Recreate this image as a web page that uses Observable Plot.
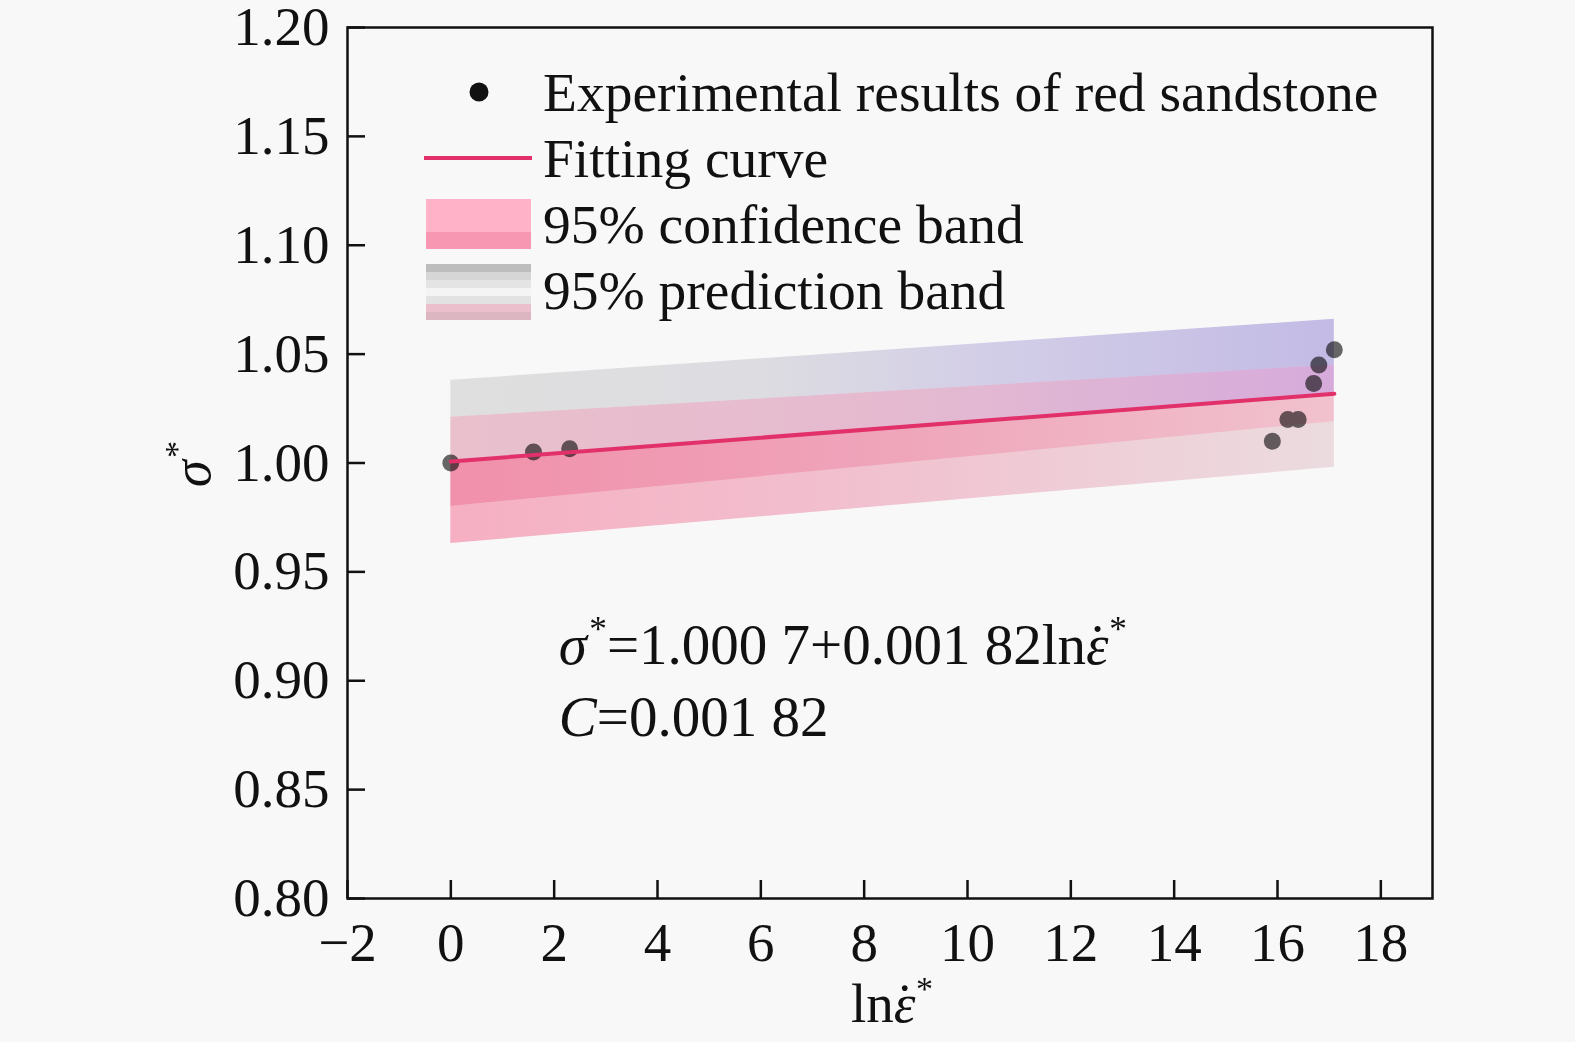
<!DOCTYPE html>
<html><head><meta charset="utf-8">
<script src="https://cdn.jsdelivr.net/npm/d3@7"></script>
<script src="https://cdn.jsdelivr.net/npm/@observablehq/plot@0.6"></script>
<style>
html,body{margin:0;padding:0;background:#f8f8f8;}
svg{display:block;background:#f8f8f8;}
</style></head><body><div id="chart"></div>
<script>
// ---- data ----
const xPoints = [0, 1.6, 2.3, 15.9, 16.2, 16.4, 16.7, 16.8, 17.1];
const yPoints = [1.000, 1.005, 1.0065, 1.010, 1.020, 1.020, 1.0365, 1.045, 1.052];
const bandX     = [0, 17.1];
const fitY      = [1.0007, 1.0318];
const predUpper = [1.038, 1.066];
const confUpper = [1.021, 1.045];
const confLower = [0.980, 1.019];
const predLower = [0.963, 0.998];
const xTicks = [-2, 0, 2, 4, 6, 8, 10, 12, 14, 16, 18];
const yTicks = [0.80, 0.85, 0.90, 0.95, 1.00, 1.05, 1.10, 1.15, 1.20];
const legendLabels = ["Experimental results of red sandstone", "Fitting curve", "95% confidence band", "95% prediction band"];
const equationLine1 = [["σ", "i"], ["*", "s"], ["=1.000 7+0.001 82ln", ""], ["ε", "i"], ["\u02D9", "d"], ["*", "s"]];
const equationLine2 = [["C", "i"], ["=0.001 82", ""]];
const xLabel = [["ln", ""], ["ε", "i"], ["\u02D9", "d"], ["*", "s"]];
const yLabel = [["σ", "i"], ["*", "s"]];

const W = 1575, H = 1042;
const M = {top: 27, right: 143, bottom: 144, left: 347};
const plotW = W - M.left - M.right, plotH = H - M.top - M.bottom;
const FONT = "'Liberation Serif', 'Times New Roman', serif";
const FS = 55;
const FS_EQ = 57;

const points = xPoints.map((x, i) => ({x, y: yPoints[i]}));
const band = bandX.map((x, i) => ({x, fit: fitY[i], pu: predUpper[i], cu: confUpper[i], cl: confLower[i], pl: predLower[i]}));

const plot = Plot.plot({
  width: W, height: H,
  marginTop: M.top, marginRight: M.right, marginBottom: M.bottom, marginLeft: M.left,
  style: {fontFamily: FONT, fontSize: FS + "px", background: "#f8f8f8", color: "#111"},
  x: {domain: [-2, 19]},
  y: {domain: [0.80, 1.20]},
  marks: [
    Plot.dot(points, {x: "x", y: "y", r: 8.5, fill: "#666666", stroke: "none"}),
    Plot.areaY(band, {x: "x", y1: "cu", y2: "pu", fill: "url(#gPU)", mixBlendMode: "multiply"}),
    Plot.areaY(band, {x: "x", y1: "fit", y2: "cu", fill: "url(#gCU)", mixBlendMode: "multiply"}),
    Plot.areaY(band, {x: "x", y1: "cl", y2: "fit", fill: "url(#gCL)", mixBlendMode: "multiply"}),
    Plot.areaY(band, {x: "x", y1: "pl", y2: "cl", fill: "url(#gPL)", mixBlendMode: "multiply"}),
    Plot.line(band, {x: "x", y: "fit", stroke: "#e2306a", strokeWidth: 4}),
    Plot.tickX(xTicks, {x: d => d, insetTop: plotH - 18, stroke: "#111", strokeWidth: 2.5}),
    Plot.tickY(yTicks, {y: d => d, insetRight: plotW - 18, stroke: "#111", strokeWidth: 2.5}),
    Plot.axisX({ticks: xTicks, tickSize: 0, tickPadding: 23, fontSize: FS, label: null,
      tickFormat: d => d < 0 ? "\u2212" + (-d) : String(d)}),
    Plot.axisY({ticks: yTicks, tickSize: 0, tickPadding: 18, fontSize: FS, label: null,
      tickFormat: d => d.toFixed(2)}),
    Plot.frame({stroke: "#111", strokeWidth: 2.5})
  ]
});

const svg = d3.select(plot);
const defs = svg.insert("defs", ":first-child");
function grad(id, stops) {
  const g = defs.append("linearGradient").attr("id", id).attr("x1", 0).attr("x2", 1).attr("y1", 0).attr("y2", 0);
  stops.forEach(([o, c]) => g.append("stop").attr("offset", o).attr("stop-color", c));
}
grad("gPU", [[0, "#e6e6e6"], [0.35, "#e4e3e8"], [0.6, "#d9d4ee"], [1, "#c9c1ec"]]);
grad("gCU", [[0, "#f0c6d2"], [0.5, "#ecc0d6"], [1, "#dcb0e2"]]);
grad("gCL", [[0, "#f894b0"], [0.5, "#f6aac0"], [1, "#f8c8d4"]]);
grad("gPL", [[0, "#fdb4c9"], [0.5, "#f8c8d6"], [1, "#f2e2e6"]]);

function rich(sel, parts, size) {
  let raised = false;
  parts.forEach(([t, s]) => {
    const ts = sel.append("tspan").text(t);
    if (s === "i") ts.attr("font-style", "italic");
    if (s === "d") ts.attr("dx", -size * 0.36);
    if (s === "s") { ts.attr("font-size", size * 0.62).attr("dy", -size * 0.40).attr("dx", size * 0.04); raised = true; }
    else if (raised) { ts.attr("dy", size * 0.40); raised = false; }
  });
}

const sx = plot.scale("x"), sy = plot.scale("y");
const txt = svg.append("g").attr("font-family", FONT).attr("fill", "#111").attr("text-anchor", "start");

// equation
rich(txt.append("text").attr("x", sx.apply(2.1)).attr("y", sy.apply(0.9075)).attr("font-size", FS_EQ), equationLine1, FS_EQ);
rich(txt.append("text").attr("x", sx.apply(2.1)).attr("y", sy.apply(0.8745)).attr("font-size", FS_EQ), equationLine2, FS_EQ);

// axis titles
rich(txt.append("text").attr("x", 892).attr("y", 1022).attr("text-anchor", "middle").attr("font-size", FS), xLabel, FS);
rich(txt.append("text").attr("transform", "translate(210,464) rotate(-90)").attr("text-anchor", "middle").attr("font-size", FS), yLabel, FS);

// legend
const lg = svg.append("g").attr("font-family", FONT).attr("fill", "#111").attr("text-anchor", "start");
const rowY = [92, 158, 224, 290];
lg.append("circle").attr("cx", 479).attr("cy", rowY[0]).attr("r", 9.5).attr("fill", "#111");
lg.append("line").attr("x1", 424).attr("x2", 532).attr("y1", rowY[1]).attr("y2", rowY[1]).attr("stroke", "#e2306a").attr("stroke-width", 4);
lg.append("rect").attr("x", 426).attr("y", 199).attr("width", 105).attr("height", 33).attr("fill", "#ffb2c8");
lg.append("rect").attr("x", 426).attr("y", 232).attr("width", 105).attr("height", 17).attr("fill", "#f797b2");
const predStripes = ["#bdbdbd", "#d6d6d6", "#e4e4e4", "#f4f4f4", "#e2e2e2", "#ebbfcb", "#dcb6c0"];
predStripes.forEach((c, i) => lg.append("rect").attr("x", 426).attr("y", 264 + i * 8).attr("width", 105).attr("height", 8).attr("fill", c));
legendLabels.forEach((t, i) => lg.append("text").attr("x", 543).attr("y", rowY[i] + 19).attr("font-size", FS + 0.5).text(t));

document.getElementById("chart").appendChild(plot);
</script></body></html>
